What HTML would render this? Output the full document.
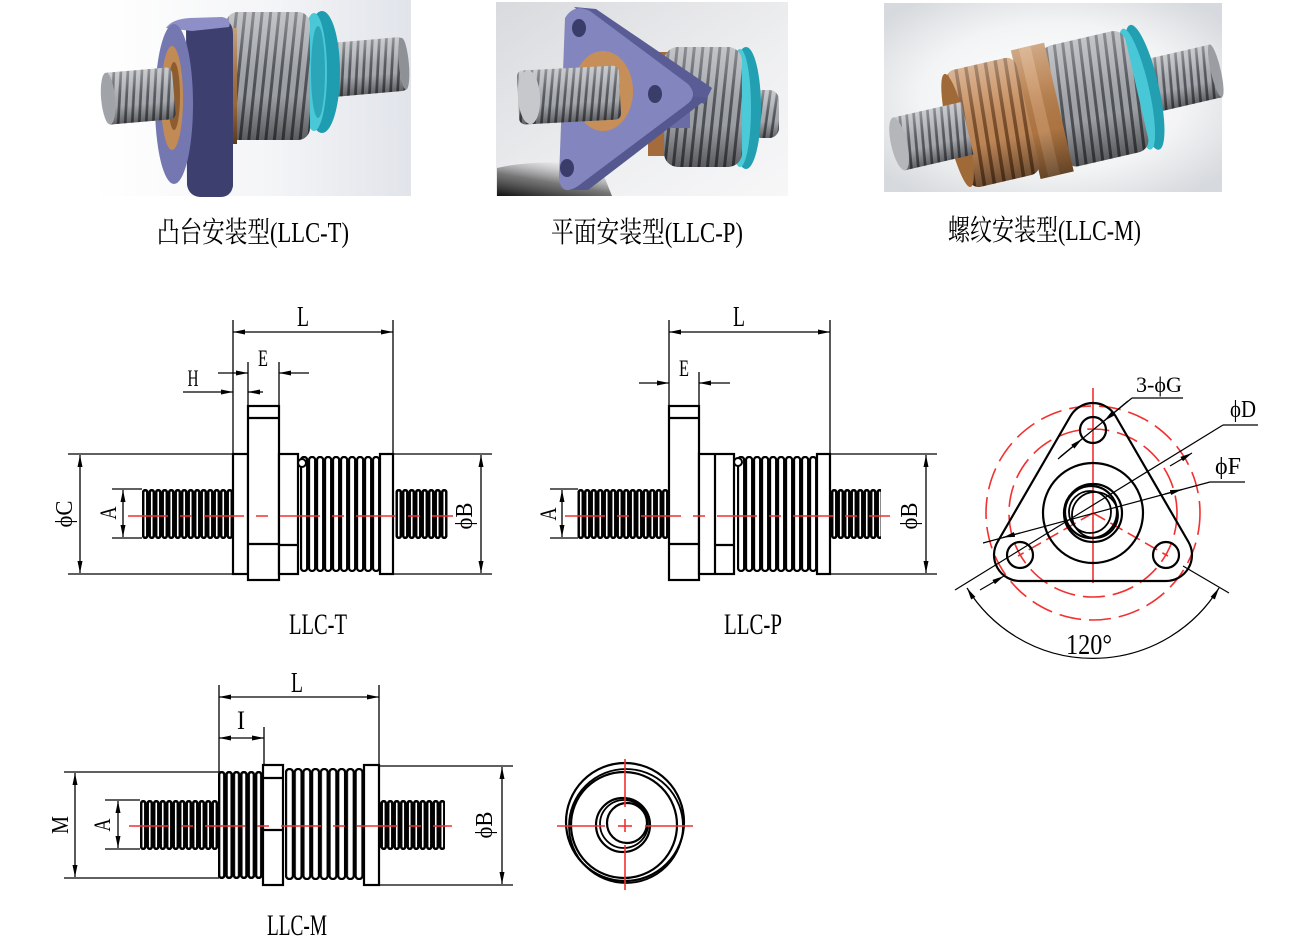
<!DOCTYPE html>
<html><head><meta charset="utf-8"><style>
html,body{margin:0;padding:0;background:#fff}
svg{display:block}
text{font-family:"Liberation Serif","Noto Serif CJK SC",serif;fill:#000}
</style></head><body>
<svg width="1300" height="938" viewBox="0 0 1300 938" xmlns="http://www.w3.org/2000/svg">
<defs>
 <marker id="ar" viewBox="0 0 12 5" refX="12" refY="2.5" markerWidth="12" markerHeight="5" markerUnits="userSpaceOnUse" orient="auto-start-reverse"><path d="M0,0L12,2.5L0,5z" fill="#000"/></marker>
 <pattern id="thr" width="7" height="20" patternUnits="userSpaceOnUse" patternTransform="rotate(8)"><rect width="7" height="20" fill="#aeb1b6"/><rect x="4.3" width="2.7" height="20" fill="#55585e"/></pattern>
 <pattern id="bel" width="8.5" height="20" patternUnits="userSpaceOnUse" patternTransform="rotate(6)"><rect width="8.5" height="20" fill="#a3a6ab"/><rect x="5.5" width="3" height="20" fill="#4f5258"/></pattern>
 <pattern id="brz" width="10" height="20" patternUnits="userSpaceOnUse" patternTransform="rotate(4)"><rect width="10" height="20" fill="#c68c5b"/><rect x="6.5" width="3.5" height="20" fill="#7a4c27"/></pattern>
 <linearGradient id="sh" x1="0" y1="0" x2="0" y2="1"><stop offset="0" stop-color="#fff" stop-opacity=".35"/><stop offset=".3" stop-color="#fff" stop-opacity=".12"/><stop offset=".65" stop-color="#000" stop-opacity=".05"/><stop offset="1" stop-color="#000" stop-opacity=".45"/></linearGradient>
 <linearGradient id="bg1" x1="0" y1="0" x2="1" y2="0"><stop offset="0" stop-color="#fff"/><stop offset=".55" stop-color="#f4f5f7"/><stop offset="1" stop-color="#e1e4ea"/></linearGradient>
 <linearGradient id="bg2" x1="0" y1="0" x2="1" y2="1"><stop offset="0" stop-color="#d9dadd"/><stop offset=".6" stop-color="#eeeff1"/><stop offset="1" stop-color="#f7f7f8"/></linearGradient>
 <radialGradient id="bg3" cx=".5" cy=".5" r=".65"><stop offset="0" stop-color="#fff"/><stop offset=".6" stop-color="#f3f4f5"/><stop offset="1" stop-color="#d6d9dd"/></radialGradient>
 <linearGradient id="shd" x1="0" y1="1" x2=".6" y2="0"><stop offset="0" stop-color="#111"/><stop offset=".5" stop-color="#444" stop-opacity=".7"/><stop offset="1" stop-color="#888" stop-opacity="0"/></linearGradient>

 <pattern id="sTP" x="142" y="489" width="6.5" height="50" patternUnits="userSpaceOnUse"><rect x="1.2" y="1.2" width="4.1" height="47.6" rx="2" fill="none" stroke="#000" stroke-width="2.5"/></pattern>
 <pattern id="sM" x="140" y="800" width="6.5" height="50" patternUnits="userSpaceOnUse"><rect x="1.2" y="1.2" width="4.1" height="47.6" rx="2" fill="none" stroke="#000" stroke-width="2.5"/></pattern>
 <pattern id="bT" x="300" y="456" width="8" height="116" patternUnits="userSpaceOnUse"><rect x="1" y="1" width="6.2" height="114" rx="3.1" fill="#fff" stroke="#000" stroke-width="2.3"/></pattern>
 <pattern id="bP" x="737" y="456" width="8" height="116" patternUnits="userSpaceOnUse"><rect x="1" y="1" width="6.2" height="114" rx="3.1" fill="#fff" stroke="#000" stroke-width="2.3"/></pattern>
 <pattern id="bM" x="285" y="768" width="8.7" height="112" patternUnits="userSpaceOnUse"><rect x="1" y="1" width="6.9" height="110" rx="3.4" fill="#fff" stroke="#000" stroke-width="2.3"/></pattern>
 <pattern id="tM" x="218" y="771" width="7.4" height="108" patternUnits="userSpaceOnUse"><rect x="1.1" y="1.1" width="5.2" height="105.8" rx="2.6" fill="#fff" stroke="#000" stroke-width="2.5"/></pattern>
</defs>

<rect width="1300" height="938" fill="#fff"/>

<!-- ===== PHOTO 1 (LLC-T) ===== -->
<rect x="95" y="0" width="316" height="196" fill="url(#bg1)"/>
<g transform="rotate(-5 367 67)">
 <rect x="328" y="40" width="78" height="54" rx="6" fill="url(#thr)"/>
 <rect x="328" y="40" width="78" height="54" rx="6" fill="url(#sh)"/>
 <ellipse cx="404" cy="67" rx="5" ry="26" fill="#8e9196"/>
</g>
<ellipse cx="322" cy="72" rx="18" ry="61" fill="#1f9db0"/>
<ellipse cx="314" cy="72" rx="13" ry="59" fill="#4ac8d7"/>
<ellipse cx="318" cy="72" rx="7" ry="46" fill="#2aa6b8"/>
<rect x="226" y="12" width="84" height="128" rx="12" fill="url(#bel)"/>
<rect x="226" y="12" width="84" height="128" rx="12" fill="url(#sh)"/>
<rect x="217" y="28" width="20" height="116" fill="#a36d3c"/>
<rect x="217" y="28" width="20" height="116" fill="url(#sh)"/>
<path d="M186,24 L224,20 Q233,22 233,34 L233,186 Q231,197 220,197 L200,197 Q189,196 187,185 Z" fill="#3d406f"/>
<path d="M166,28 Q172,19 190,18 L222,17 Q232,19 229,27 L192,31 Z" fill="#8d8fc6"/>
<ellipse cx="174" cy="104" rx="19" ry="80" fill="#7577b1"/>
<ellipse cx="172" cy="98" rx="11" ry="52" fill="#c28b55"/>
<ellipse cx="174" cy="96" rx="6" ry="34" fill="#8d5d2f"/>
<g transform="rotate(-5 139 96)">
 <rect x="104" y="70" width="70" height="52" rx="6" fill="url(#thr)"/>
 <rect x="104" y="70" width="70" height="52" rx="6" fill="url(#sh)"/>
 <ellipse cx="108" cy="96" rx="7" ry="26" fill="#a0a3a8"/>
</g>

<!-- ===== PHOTO 2 (LLC-P) ===== -->
<rect x="496" y="2" width="292" height="194" fill="url(#bg2)"/>
<path d="M497,168 Q540,158 600,166 L612,196 L497,196 Z" fill="url(#shd)"/>
<rect x="752" y="90" width="27" height="48" rx="10" fill="url(#thr)"/>
<rect x="752" y="90" width="27" height="48" rx="10" fill="url(#sh)"/>
<ellipse cx="746" cy="108" rx="15" ry="61" fill="#239fb2"/>
<ellipse cx="740" cy="108" rx="11" ry="59" fill="#4ccad8"/>
<rect x="648" y="52" width="24" height="104" fill="#a46c3c"/>
<rect x="664" y="47" width="78" height="120" rx="14" fill="url(#bel)"/>
<rect x="664" y="47" width="78" height="120" rx="14" fill="url(#sh)"/>
<rect x="646" y="80" width="44" height="48" fill="#6a6ca6"/>
<path d="M574,7 L596,9 L712,88 L704,104 L690,98 Z" fill="#5a5c96"/>
<path d="M690,96 L708,98 L588,190 L570,190 Z" fill="#55578f"/>
<path d="M565,18 Q574,3 590,11 L688,84 Q699,96 686,105 L578,186 Q561,197 559,178 Z" fill="#8385be"/>
<ellipse cx="579" cy="28" rx="7" ry="9" fill="#3a3c6a"/>
<ellipse cx="655" cy="94" rx="7" ry="9" fill="#3a3c6a"/>
<ellipse cx="567" cy="168" rx="7" ry="9" fill="#3a3c6a"/>
<ellipse cx="603" cy="91" rx="30" ry="40" fill="#c68f5a"/>
<ellipse cx="608" cy="88" rx="12" ry="18" fill="#8a5a2e"/>
<g transform="rotate(-3 570 95)">
 <rect x="518" y="68" width="102" height="54" rx="6" fill="url(#thr)"/>
 <rect x="518" y="68" width="102" height="54" rx="6" fill="url(#sh)"/>
 <ellipse cx="529" cy="95" rx="11" ry="27" fill="#c7c8cb"/>
</g>

<!-- ===== PHOTO 3 (LLC-M) ===== -->
<rect x="884" y="3" width="338" height="189" fill="url(#bg3)"/>
<g transform="translate(1055,108) rotate(-13)">
 <rect x="95" y="-27" width="70" height="54" fill="url(#thr)"/>
 <rect x="95" y="-27" width="70" height="54" fill="url(#sh)"/>
 <ellipse cx="165" cy="0" rx="5" ry="27" fill="#9a9da2"/>
 <ellipse cx="92" cy="0" rx="14" ry="64" fill="#239fb2"/>
 <ellipse cx="84" cy="0" rx="12" ry="62" fill="#48c8d7"/>
 <rect x="-2" y="-62" width="86" height="124" rx="12" fill="url(#bel)"/>
 <rect x="-2" y="-62" width="86" height="124" rx="12" fill="url(#sh)"/>
 <rect x="-30" y="-66" width="34" height="132" fill="#b57a45"/>
 <rect x="-22" y="-66" width="12" height="132" fill="#c99261"/>
 <rect x="-30" y="-66" width="34" height="132" fill="url(#sh)"/>
 <rect x="-100" y="-60" width="72" height="120" rx="10" fill="url(#brz)"/>
 <rect x="-100" y="-60" width="72" height="120" rx="10" fill="url(#sh)"/>
 <ellipse cx="-100" cy="0" rx="10" ry="58" fill="#a06a38"/>
 <rect x="-160" y="-27" width="70" height="54" fill="url(#thr)"/>
 <rect x="-160" y="-27" width="70" height="54" fill="url(#sh)"/>
 <ellipse cx="-160" cy="0" rx="8" ry="27" fill="#b4b6ba"/>
</g>

<!-- captions -->
<text x="157" y="242" font-size="29" textLength="192" lengthAdjust="spacingAndGlyphs">凸台安装型(LLC-T)</text>
<text x="551" y="242" font-size="29" textLength="192" lengthAdjust="spacingAndGlyphs">平面安装型(LLC-P)</text>
<text x="948" y="240" font-size="29" textLength="193" lengthAdjust="spacingAndGlyphs">螺纹安装型(LLC-M)</text>

<!-- ===== LLC-T drawing ===== -->
<g stroke="#000" stroke-width="1.3" fill="none">
 <line x1="233" y1="320" x2="233" y2="454"/>
 <line x1="393" y1="320" x2="393" y2="454"/>
 <line x1="233" y1="332" x2="393" y2="332" marker-start="url(#ar)" marker-end="url(#ar)"/>
 <line x1="248" y1="362" x2="248" y2="406"/>
 <line x1="279" y1="362" x2="279" y2="406"/>
 <line x1="218" y1="373" x2="248" y2="373" marker-end="url(#ar)"/>
 <line x1="309" y1="373" x2="279" y2="373" marker-end="url(#ar)"/>
 <line x1="183" y1="392" x2="233" y2="392" marker-end="url(#ar)"/>
 <line x1="263" y1="392" x2="248" y2="392" marker-end="url(#ar)"/>
 <line x1="68" y1="454" x2="233" y2="454"/>
 <line x1="68" y1="574" x2="233" y2="574"/>
 <line x1="80" y1="455" x2="80" y2="573" marker-start="url(#ar)" marker-end="url(#ar)"/>
 <line x1="112" y1="489" x2="142" y2="489"/>
 <line x1="112" y1="538" x2="142" y2="538"/>
 <line x1="123" y1="490" x2="123" y2="537" marker-start="url(#ar)" marker-end="url(#ar)"/>
 <line x1="393" y1="454" x2="492" y2="454"/>
 <line x1="393" y1="574" x2="492" y2="574"/>
 <line x1="481" y1="455" x2="481" y2="573" marker-start="url(#ar)" marker-end="url(#ar)"/>
</g>
<rect x="142" y="489" width="91" height="50" fill="url(#sTP)"/>
<rect x="395.5" y="489" width="52" height="50" fill="url(#sTP)"/>
<rect x="300" y="456" width="80" height="116" fill="url(#bT)"/>
<circle cx="302" cy="463" r="4" fill="#fff" stroke="#000" stroke-width="2"/>
<g stroke="#000" stroke-width="2.2" fill="#fff">
 <rect x="233" y="454" width="15" height="120"/>
 <rect x="248" y="406" width="31" height="174"/>
 <line x1="248" y1="418" x2="279" y2="418"/>
 <line x1="248" y1="544" x2="279" y2="544"/>
 <rect x="279" y="454" width="19" height="120"/>
 <line x1="279" y1="545" x2="298" y2="545"/>
 <rect x="380" y="454" width="13" height="120"/>
</g>
<line x1="128" y1="516" x2="453" y2="516" stroke="#f23030" stroke-width="1.6" stroke-dasharray="40 12 12 12"/>
<text x="303" y="326" font-size="28" text-anchor="middle" textLength="12" lengthAdjust="spacingAndGlyphs">L</text>
<text x="263" y="366" font-size="23" text-anchor="middle" textLength="10" lengthAdjust="spacingAndGlyphs">E</text>
<text x="193" y="386" font-size="23" text-anchor="middle" textLength="11" lengthAdjust="spacingAndGlyphs">H</text>
<text transform="translate(72,514) rotate(-90)" font-size="24" text-anchor="middle" textLength="27" lengthAdjust="spacingAndGlyphs">ϕC</text>
<text transform="translate(116,513) rotate(-90)" font-size="23" text-anchor="middle" textLength="13" lengthAdjust="spacingAndGlyphs">A</text>
<text transform="translate(472,516) rotate(-90)" font-size="24" text-anchor="middle" textLength="27" lengthAdjust="spacingAndGlyphs">ϕB</text>
<text x="318" y="634" font-size="30" text-anchor="middle" textLength="58" lengthAdjust="spacingAndGlyphs">LLC-T</text>

<!-- ===== LLC-P drawing ===== -->
<g stroke="#000" stroke-width="1.3" fill="none">
 <line x1="669" y1="320" x2="669" y2="406"/>
 <line x1="830" y1="320" x2="830" y2="454"/>
 <line x1="669" y1="332" x2="830" y2="332" marker-start="url(#ar)" marker-end="url(#ar)"/>
 <line x1="699" y1="372" x2="699" y2="406"/>
 <line x1="639" y1="383" x2="669" y2="383" marker-end="url(#ar)"/>
 <line x1="730" y1="383" x2="699" y2="383" marker-end="url(#ar)"/>
 <line x1="550" y1="489" x2="578" y2="489"/>
 <line x1="550" y1="538" x2="578" y2="538"/>
 <line x1="562" y1="490" x2="562" y2="537" marker-start="url(#ar)" marker-end="url(#ar)"/>
 <line x1="830" y1="454" x2="937" y2="454"/>
 <line x1="830" y1="574" x2="937" y2="574"/>
 <line x1="926" y1="455" x2="926" y2="573" marker-start="url(#ar)" marker-end="url(#ar)"/>
</g>
<rect x="577.5" y="489" width="91.5" height="50" fill="url(#sTP)"/>
<rect x="831" y="489" width="50" height="50" fill="url(#sTP)"/>
<rect x="737" y="456" width="80" height="116" fill="url(#bP)"/>
<circle cx="738" cy="462" r="4" fill="#fff" stroke="#000" stroke-width="2"/>
<g stroke="#000" stroke-width="2.2" fill="#fff">
 <rect x="669" y="406" width="30" height="174"/>
 <line x1="669" y1="418" x2="699" y2="418"/>
 <line x1="669" y1="544" x2="699" y2="544"/>
 <rect x="699" y="454" width="35" height="120"/>
 <line x1="715" y1="454" x2="715" y2="574"/>
 <line x1="715" y1="545" x2="734" y2="545"/>
 <rect x="817" y="454" width="13" height="120"/>
</g>
<line x1="565" y1="516" x2="890" y2="516" stroke="#f23030" stroke-width="1.6" stroke-dasharray="40 12 12 12"/>
<text x="739" y="326" font-size="28" text-anchor="middle" textLength="12" lengthAdjust="spacingAndGlyphs">L</text>
<text x="684" y="376" font-size="23" text-anchor="middle" textLength="10" lengthAdjust="spacingAndGlyphs">E</text>
<text transform="translate(556,514) rotate(-90)" font-size="23" text-anchor="middle" textLength="13" lengthAdjust="spacingAndGlyphs">A</text>
<text transform="translate(917,516) rotate(-90)" font-size="24" text-anchor="middle" textLength="27" lengthAdjust="spacingAndGlyphs">ϕB</text>
<text x="753" y="634" font-size="30" text-anchor="middle" textLength="58" lengthAdjust="spacingAndGlyphs">LLC-P</text>

<!-- ===== Triangle flange end view ===== -->
<g fill="none" stroke="#f23030" stroke-width="1.6">
 <circle cx="1093" cy="513" r="107" stroke-dasharray="22 8"/>
 <circle cx="1093" cy="513" r="84" stroke-dasharray="22 8"/>
 <line x1="1093" y1="388" x2="1093" y2="583"/>
 <line x1="1093" y1="513" x2="1018" y2="556" stroke-dasharray="14 6"/>
 <line x1="1093" y1="513" x2="1168" y2="556" stroke-dasharray="14 6"/>
</g>
<g fill="none" stroke="#000" stroke-width="2.2">
 <path d="M1070.5,416 A26,26 0 0 1 1115.5,416 L1188.5,542 A26,26 0 0 1 1166,581 L1020,581 A26,26 0 0 1 997.5,542 Z"/>
 <circle cx="1093" cy="430" r="13"/>
 <circle cx="1020" cy="555" r="13"/>
 <circle cx="1166" cy="555" r="13"/>
 <circle cx="1093" cy="513" r="50"/>
 <circle cx="1093" cy="513" r="29"/>
 <circle cx="1091" cy="512" r="26"/>
 <circle cx="1095" cy="515" r="23" stroke-width="1.8"/>
 <circle cx="1090" cy="512" r="21" stroke-width="1.8"/>
</g>
<g fill="none" stroke="#000" stroke-width="1.2">
 <line x1="1060" y1="457" x2="1132" y2="398"/>
 <line x1="1132" y1="398" x2="1183" y2="398"/>
 <line x1="1058" y1="459" x2="1082" y2="439" marker-end="url(#ar)"/>
 <line x1="1128" y1="401" x2="1104" y2="421" marker-end="url(#ar)"/>
 <line x1="955" y1="590" x2="1223" y2="425"/>
 <line x1="1223" y1="425" x2="1258" y2="425"/>
 <line x1="1170" y1="466" x2="1192" y2="453" marker-end="url(#ar)"/>
 <line x1="980" y1="590" x2="1004" y2="576" marker-end="url(#ar)"/>
 <line x1="983" y1="543" x2="1210" y2="482"/>
 <line x1="1210" y1="482" x2="1245" y2="482"/>
 <line x1="1165" y1="494" x2="1182" y2="489.5" marker-end="url(#ar)"/>
 <line x1="1020" y1="533" x2="1003" y2="537.5" marker-end="url(#ar)"/>
 <line x1="1183" y1="566" x2="1229" y2="593"/>
 <path d="M967,588 A148,148 0 0 0 1219,588" marker-start="url(#ar)" marker-end="url(#ar)"/>
</g>
<text x="1136" y="392" font-size="22" textLength="46" lengthAdjust="spacingAndGlyphs">3-ϕG</text>
<text x="1230" y="417" font-size="24" textLength="26" lengthAdjust="spacingAndGlyphs">ϕD</text>
<text x="1215" y="474" font-size="24" textLength="26" lengthAdjust="spacingAndGlyphs">ϕF</text>
<text x="1089" y="654" font-size="28" text-anchor="middle" textLength="46" lengthAdjust="spacingAndGlyphs">120°</text>

<!-- ===== LLC-M drawing ===== -->
<g stroke="#000" stroke-width="1.3" fill="none">
 <line x1="219" y1="685" x2="219" y2="772"/>
 <line x1="379" y1="685" x2="379" y2="766"/>
 <line x1="219" y1="697" x2="379" y2="697" marker-start="url(#ar)" marker-end="url(#ar)"/>
 <line x1="264" y1="727" x2="264" y2="765"/>
 <line x1="219" y1="738" x2="264" y2="738" marker-start="url(#ar)" marker-end="url(#ar)"/>
 <line x1="64" y1="772" x2="219" y2="772"/>
 <line x1="64" y1="878" x2="219" y2="878"/>
 <line x1="75" y1="773" x2="75" y2="877" marker-start="url(#ar)" marker-end="url(#ar)"/>
 <line x1="105" y1="800" x2="140" y2="800"/>
 <line x1="105" y1="849" x2="140" y2="849"/>
 <line x1="118" y1="801" x2="118" y2="848" marker-start="url(#ar)" marker-end="url(#ar)"/>
 <line x1="379" y1="766" x2="513" y2="766"/>
 <line x1="379" y1="885" x2="513" y2="885"/>
 <line x1="502" y1="767" x2="502" y2="884" marker-start="url(#ar)" marker-end="url(#ar)"/>
</g>
<rect x="140" y="800" width="78" height="50" fill="url(#sM)"/>
<rect x="380" y="800" width="65" height="50" fill="url(#sM)"/>
<rect x="218" y="771" width="45" height="108" fill="url(#tM)"/>
<rect x="285" y="768" width="79" height="112" fill="url(#bM)"/>
<g stroke="#000" stroke-width="2.2" fill="#fff">
 <rect x="263" y="765" width="20" height="120"/>
 <line x1="263" y1="778" x2="283" y2="778"/>
 <line x1="263" y1="830" x2="283" y2="830"/>
 <rect x="364" y="765" width="15" height="120"/>
</g>
<line x1="129" y1="826" x2="452" y2="826" stroke="#f23030" stroke-width="1.6" stroke-dasharray="40 12 12 12"/>
<text x="297" y="692" font-size="28" text-anchor="middle" textLength="12" lengthAdjust="spacingAndGlyphs">L</text>
<text x="241" y="729" font-size="26" text-anchor="middle" textLength="8" lengthAdjust="spacingAndGlyphs">I</text>
<text transform="translate(68,825) rotate(-90)" font-size="24" text-anchor="middle" textLength="18" lengthAdjust="spacingAndGlyphs">M</text>
<text transform="translate(110,825) rotate(-90)" font-size="23" text-anchor="middle" textLength="13" lengthAdjust="spacingAndGlyphs">A</text>
<text transform="translate(492,825) rotate(-90)" font-size="24" text-anchor="middle" textLength="27" lengthAdjust="spacingAndGlyphs">ϕB</text>
<text x="297" y="935" font-size="30" text-anchor="middle" textLength="60" lengthAdjust="spacingAndGlyphs">LLC-M</text>

<!-- end view -->
<g fill="none" stroke="#000" stroke-width="2.2">
 <circle cx="625" cy="822" r="59"/>
 <circle cx="626" cy="826" r="57" stroke-width="1.8"/>
 <circle cx="624" cy="825" r="53"/>
 <circle cx="623" cy="825" r="27"/>
 <circle cx="624" cy="824" r="24" stroke-width="1.8"/>
 <circle cx="627" cy="823" r="20"/>
</g>
<g stroke="#f23030" stroke-width="1.6">
 <line x1="557" y1="826" x2="605" y2="826"/>
 <line x1="618" y1="826" x2="632" y2="826"/>
 <line x1="645" y1="826" x2="693" y2="826"/>
 <line x1="625" y1="759" x2="625" y2="807"/>
 <line x1="625" y1="819" x2="625" y2="832"/>
 <line x1="625" y1="845" x2="625" y2="890"/>
</g>
</svg>
</body></html>
